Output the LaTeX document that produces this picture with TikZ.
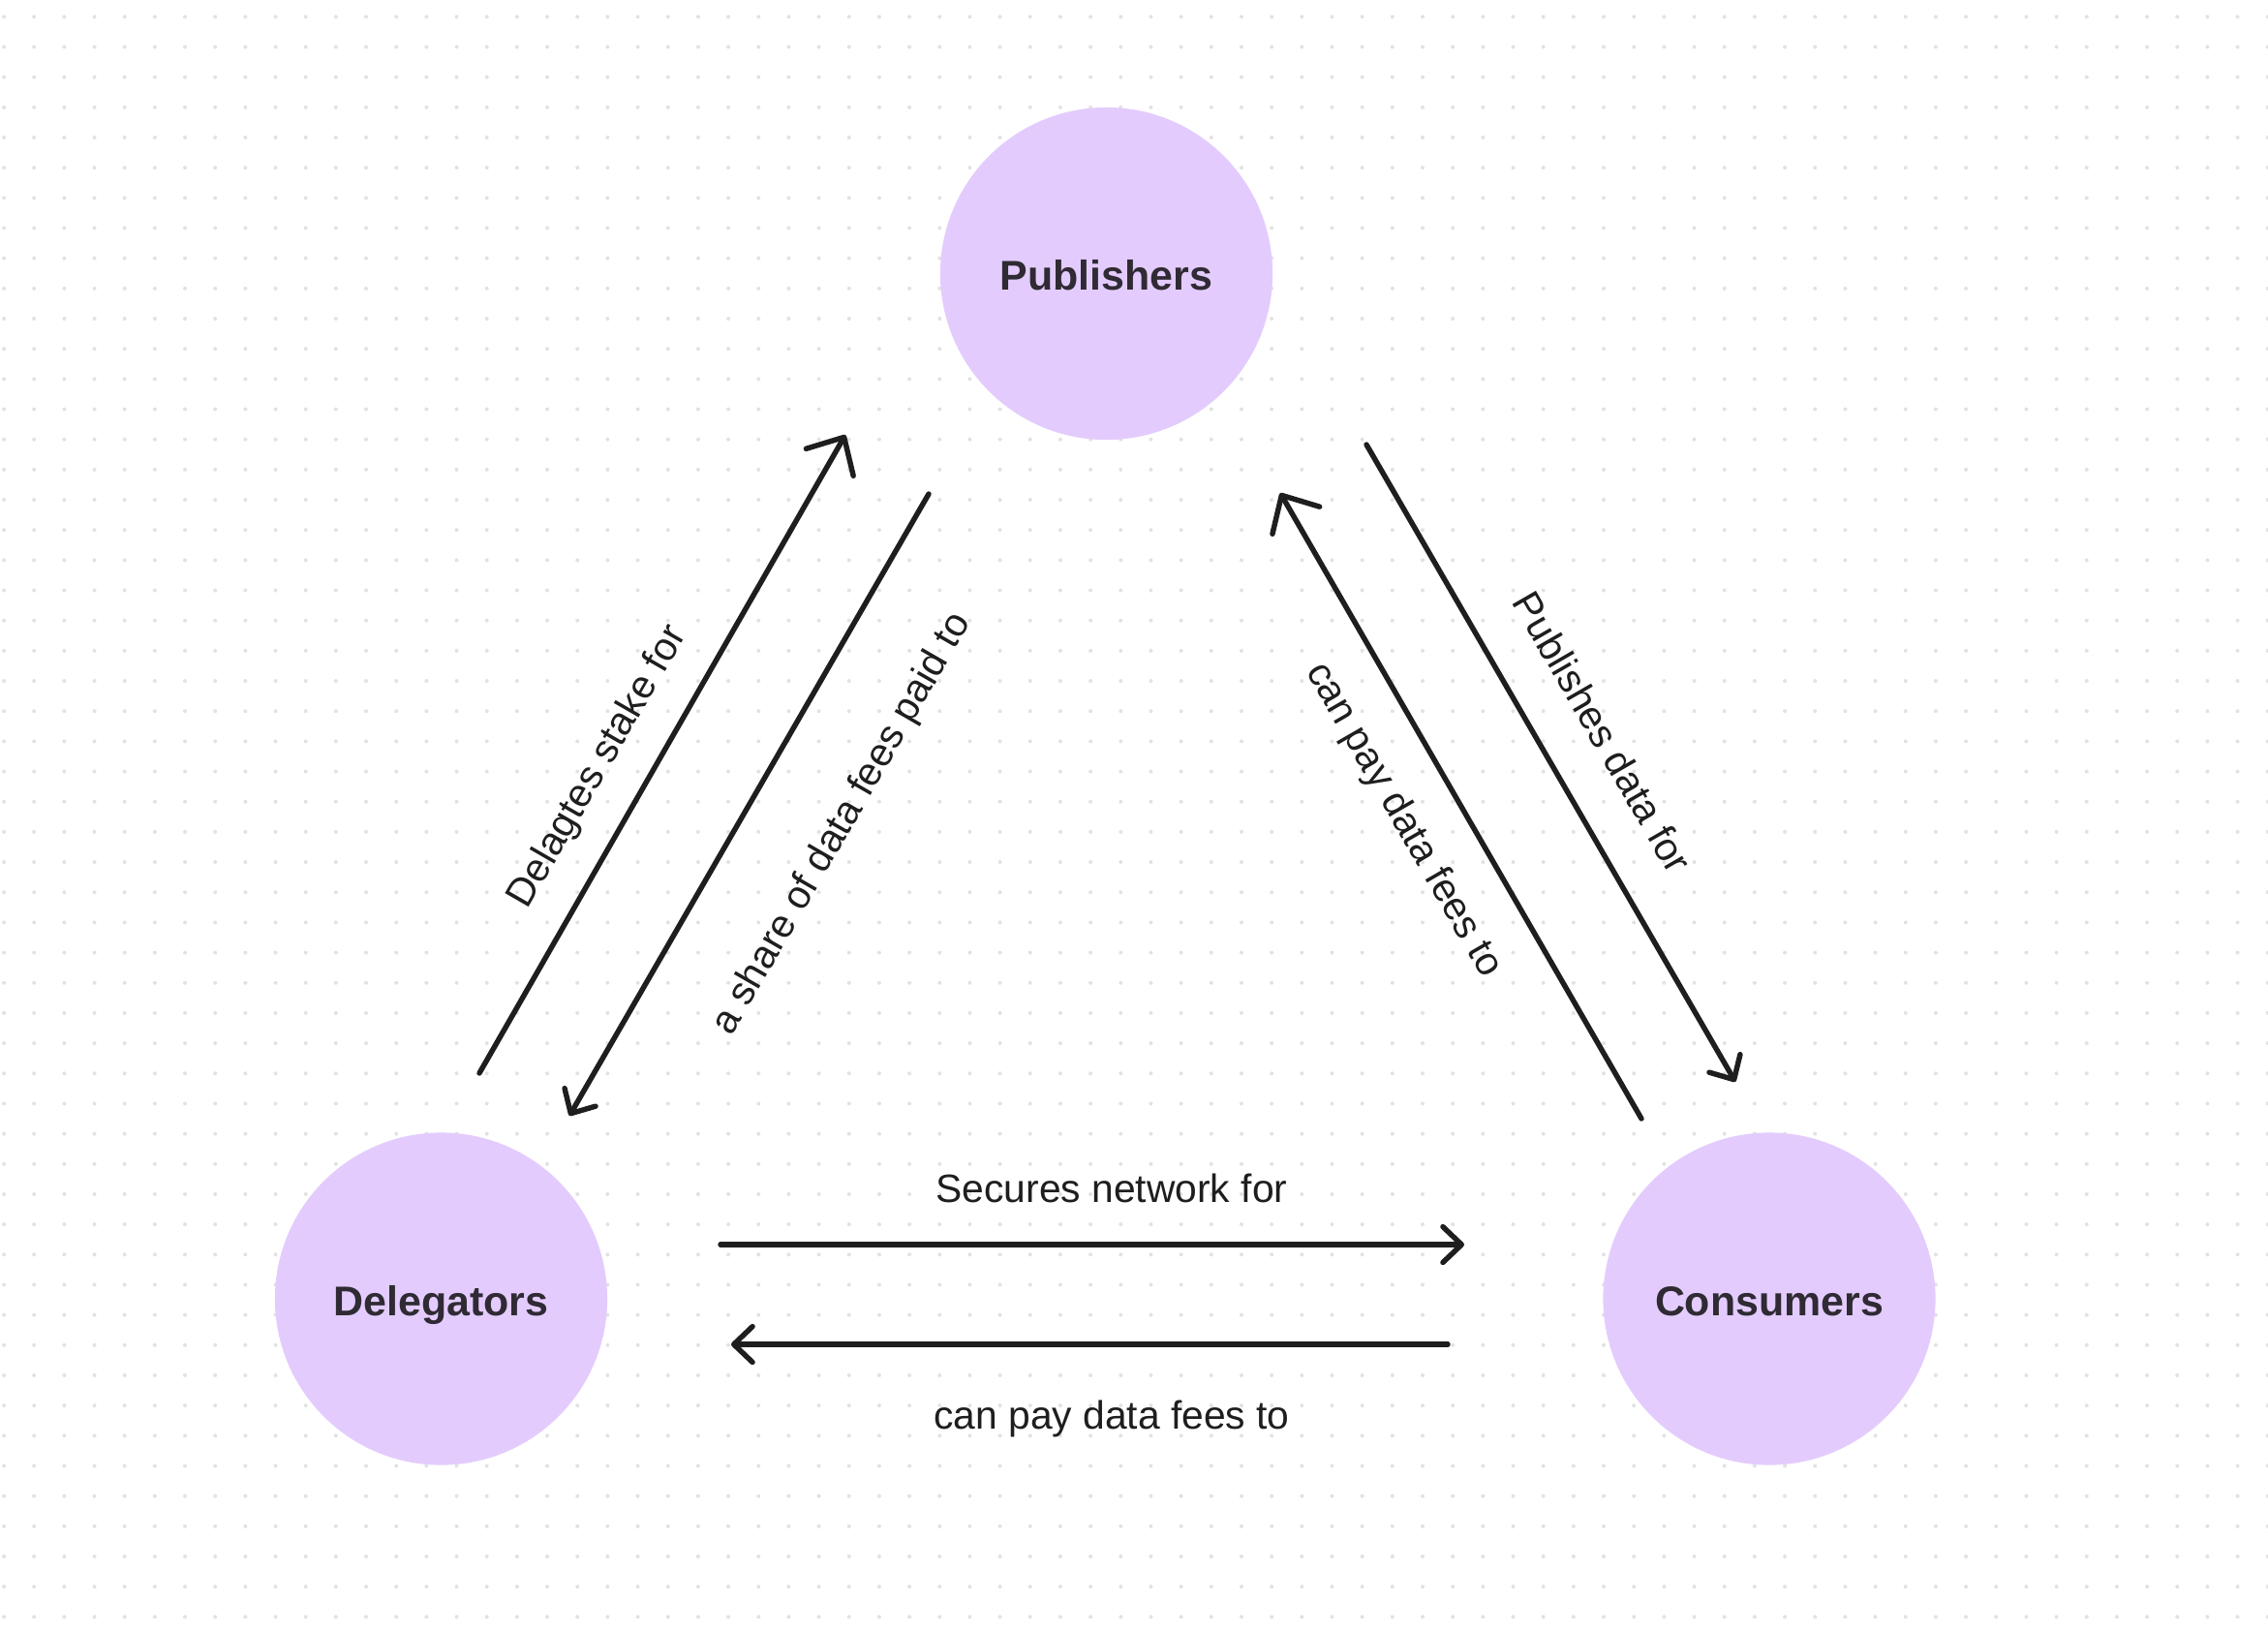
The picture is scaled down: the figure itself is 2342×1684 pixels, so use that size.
\documentclass[tikz,border=0pt]{standalone}
\usepackage{fontspec}
\setmainfont{Liberation Sans}
\usetikzlibrary{arrows.meta}
\definecolor{bubble}{HTML}{E3CCFD}
\definecolor{ink}{HTML}{1E1E1E}
\definecolor{titleink}{HTML}{2F2A33}
\definecolor{dotgrey}{HTML}{E2E2E2}
\tikzset{
  actor/.style={circle, fill=bubble, minimum size=3.43cm, inner sep=0pt,
    text=titleink, font=\fontsize{12.2pt}{14pt}\selectfont\bfseries,
    text height=9.7pt, text depth=0pt},
  conn/.style={draw=ink, line width=1.55pt, line cap=round},
  bigtip/.style={-{Straight Barb[length=8.5pt,width=16pt,line cap=round,line join=round]}},
  smalltip/.style={-{Straight Barb[length=5.5pt,width=10.5pt,line cap=round,line join=round]}},
  lbl/.style={text=ink, font=\fontsize{11.6pt}{14pt}\selectfont, inner sep=0pt}
}
\begin{document}
\begin{tikzpicture}[x=0.01cm,y=-0.01cm]
\useasboundingbox (0,0) rectangle (2342,1684);
\fill[white] (0,0) rectangle (2342,1684);
% dot grid
\foreach \i in {0,...,75}{
  \foreach \j in {0,...,53}{
    \fill[dotgrey] (4+31.17*\i, 17.3+31.17*\j) circle[radius=2];
  }
}
% actors
\node[actor] (pub) at (1142.5,282.5) {Publishers};
\node[actor] (del) at (455.5,1341) {Delegators};
\node[actor] (con) at (1827,1341) {Consumers};
% connector end points
\coordinate (a1s) at (495,1108);  \coordinate (a1e) at (873,449);
\coordinate (a2s) at (959,510);   \coordinate (a2e) at (588,1152);
\coordinate (a3s) at (1695,1155); \coordinate (a3e) at (1322,509);
\coordinate (a4s) at (1411,459);  \coordinate (a4e) at (1792,1117);
\coordinate (a5s) at (744,1285);  \coordinate (a5e) at (1512,1285);
\coordinate (a6s) at (1495,1388); \coordinate (a6e) at (755,1388);
% connectors
\draw[conn,bigtip] (a1s) -- (a1e);
\draw[conn,smalltip] (a2s) -- (a2e);
\draw[conn,bigtip] (a3s) -- (a3e);
\draw[conn,smalltip] (a4s) -- (a4e);
\draw[conn,smalltip] (a5s) -- (a5e);
\draw[conn,smalltip] (a6s) -- (a6e);
% labels
\node[lbl, rotate=60] (l1) at (618,792) {Delagtes stake for};
\node[lbl, rotate=60] (l2) at (870,851) {a share of data fees paid to};
\node[lbl, rotate=-60] (l3) at (1449,847) {can pay data fees to};
\node[lbl, rotate=-60] (l4) at (1655,756) {Publishes data for};
\node[lbl, anchor=base] (l5) at (1148,1241) {Secures network for};
\node[lbl, anchor=base] (l6) at (1148,1475) {can pay data fees to};
\end{tikzpicture}
\end{document}
